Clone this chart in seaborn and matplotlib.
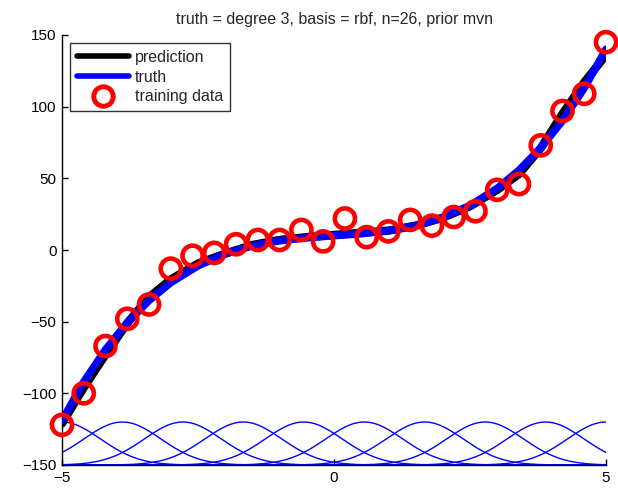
import numpy as np
import pandas as pd
import matplotlib
matplotlib.use("Agg")
import matplotlib.pyplot as plt
from matplotlib.lines import Line2D
import seaborn as sns

# ---- data ----
train_x = [-5.0, -4.6, -4.2, -3.8, -3.4, -3.0, -2.6, -2.2, -1.8, -1.4, -1.0, -0.6, -0.2,
           0.2, 0.6, 1.0, 1.4, 1.8, 2.2, 2.6, 3.0, 3.4, 3.8, 4.2, 4.6, 5.0]
train_y = [-122, -100, -67, -48, -38, -13, -4, -2, 4, 7, 7, 14, 6,
           22, 9, 13, 21, 17, 23, 27, 42, 46, 73, 97, 109, 145]

truth_x = [-5.0, -4.6, -4.2, -3.8, -3.4, -3.0, -2.5, -2.0, -1.5, -1.0, -0.5, 0.0,
           0.5, 1.0, 1.5, 2.0, 2.5, 3.0, 3.4, 3.8, 4.2, 4.6, 5.0]
truth_y = [-119, -92, -69.5, -50.6, -35.2, -22.7, -11, -2.6, 3, 6.5, 8.6, 10,
           11.4, 13.5, 17, 22.7, 31, 43, 55.6, 71.2, 90.2, 113, 140]

pred_x = [-5.0, -4.6, -4.2, -3.8, -3.4, -3.0, -2.5, -2.0, -1.5, -1.0, -0.5, 0.0,
          0.5, 1.0, 1.5, 2.0, 2.5, 3.0, 3.4, 3.8, 4.2, 4.6, 5.0]
pred_y = [-121, -96, -73, -51, -33, -20.5, -9.5, -2.5, 3.5, 7, 9, 10.5,
          12, 13.5, 17, 22.5, 30.5, 42, 53, 71, 95, 117, 136]

rbf_centers = [-5.0, -3.889, -2.778, -1.667, -0.556, 0.556, 1.667, 2.778, 3.889, 5.0]
rbf_base = -150
rbf_height = 30
rbf_width = 1.0

title = "truth = degree 3, basis = rbf, n=26, prior mvn"
xticks = [-5, 0, 5]
yticks = [-150, -100, -50, 0, 50, 100, 150]

# ---- plotting ----
sns.set_style("ticks")
plt.rcParams['font.family'] = ['Liberation Sans', 'DejaVu Sans']

fig = plt.figure(figsize=(6.18, 4.88), dpi=100)
ax = fig.add_axes([62/618, 1-465/488, (606-62)/618, (465-35)/488])

grid = np.linspace(-5, 5, 400)
for c in rbf_centers:
    vals = rbf_base + rbf_height * np.exp(-((grid - c) / rbf_width) ** 2)
    sns.lineplot(x=grid, y=vals, ax=ax, color="#0000ff", linewidth=1.0,
                 estimator=None, sort=False, legend=False)

sns.lineplot(x=pred_x, y=pred_y, ax=ax, color="black", linewidth=6,
             estimator=None, sort=False, legend=False, zorder=3)
sns.lineplot(x=truth_x, y=truth_y, ax=ax, color="#0000ff", linewidth=5.5,
             estimator=None, sort=False, legend=False, zorder=4)
sns.scatterplot(x=train_x, y=train_y, ax=ax, marker="o", s=210,
                facecolors="none", edgecolor="#ff0000", linewidth=3.3,
                zorder=5, legend=False, clip_on=False)

ax.set_xlim(-5, 5)
ax.set_ylim(-150, 150)
ax.set_xticks(xticks)
ax.set_yticks(yticks)
ax.tick_params(direction="in", length=4, labelsize=11, width=1, colors="black", pad=4)
ax.spines["top"].set_visible(False)
ax.spines["right"].set_visible(False)
for s in ("left", "bottom"):
    ax.spines[s].set_color("black")
    ax.spines[s].set_linewidth(1)

ax.set_title(title, fontsize=11.5, pad=8)

handles = [
    Line2D([], [], color="black", linewidth=4),
    Line2D([], [], color="#0000ff", linewidth=4),
    Line2D([], [], color="#ff0000", marker="o", linestyle="none",
           markersize=14, markerfacecolor="none", markeredgewidth=3.5),
]
leg = ax.legend(handles, ["prediction", "truth", "training data"],
                loc="upper left", bbox_to_anchor=(0.0147, 0.981), fontsize=11.5,
                frameon=True, fancybox=False, handlelength=3.3, handletextpad=0.35,
                borderpad=0.42, labelspacing=0.3, borderaxespad=0)
leg.get_frame().set_edgecolor("black")
leg.get_frame().set_linewidth(1)

fig.savefig("out.png", dpi=100, facecolor="white")
